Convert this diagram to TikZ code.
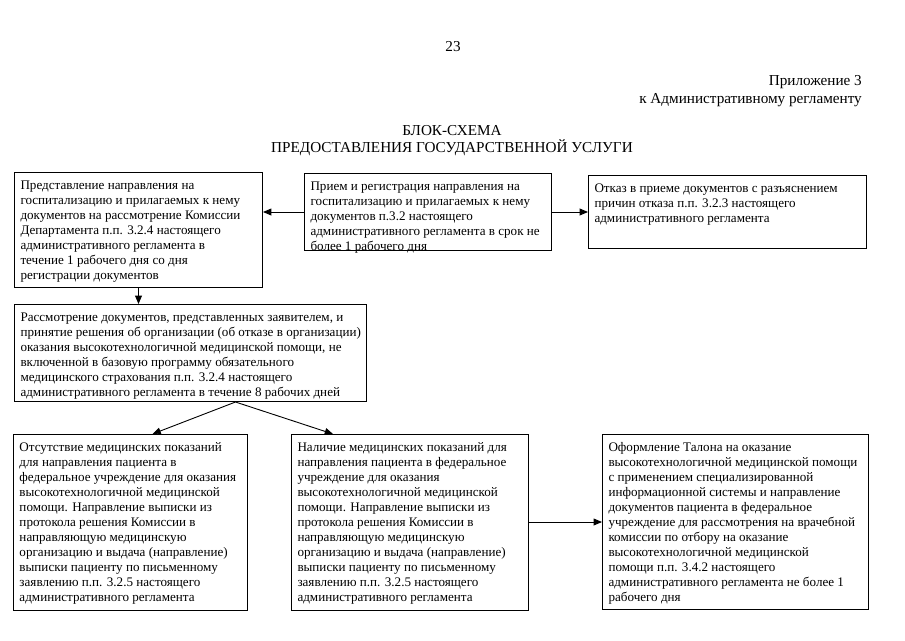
\documentclass[tikz,border=0pt]{standalone}
\usepackage{fontspec}
\setmainfont{Liberation Serif}
\usetikzlibrary{positioning,arrows}
\tikzset{
  blk/.style={draw=black, line width=1pt, inner xsep=6pt, inner ysep=6pt,
    anchor=north west, font=\fontsize{13.1}{15}\selectfont},
  hdr/.style={inner sep=0pt, font=\fontsize{15.2}{17}\selectfont},
  arr/.style={draw=black, line width=0.9pt, -triangle 45}
}
\newcommand{\blktext}[3]{\parbox[c][#2pt][t]{#1pt}{\begin{tabular}[t]{@{}l@{}}#3\end{tabular}}}

\begin{document}
\begin{tikzpicture}[x=1pt,y=-1pt]
  \useasboundingbox (0,0) rectangle (905,640);

  % header
  \node[hdr] (pnum) at (453,47) {23};
  \node[hdr, anchor=east] (appx) at (862,82) {Приложение 3};
  \node[hdr, anchor=east] (reg) at (862,100) {к Административному регламенту};
  \node[hdr] (title) at (452,131) {БЛОК-СХЕМА};
  \node[hdr] (subtitle) at (452,148) {ПРЕДОСТАВЛЕНИЯ ГОСУДАРСТВЕННОЙ УСЛУГИ};

  % top row
  \node[blk] (b1) at (14,172) {\blktext{236}{103}{%
    Представление направления на\\
    госпитализацию и прилагаемых к нему\\
    документов на рассмотрение Комиссии\\
    Департамента п.п. 3.2.4 настоящего\\
    административного регламента в\\
    течение 1 рабочего дня со дня\\
    регистрации документов}};
  \node[blk] (b2) at ([shift={(41,1)}]b1.north east) {\blktext{235}{65}{%
    Прием и регистрация направления на\\
    госпитализацию и прилагаемых к нему\\
    документов п.3.2 настоящего\\
    административного регламента в срок не\\
    более 1 рабочего дня}};
  \node[blk] (b3) at ([shift={(36,2)}]b2.north east) {\blktext{266}{61}{%
    Отказ в приеме документов с разъяснением\\
    причин отказа п.п. 3.2.3 настоящего\\
    административного регламента}};

  % review
  \node[blk] (b4) at ([shift={(0,16)}]b1.south west) {\blktext{340}{85}{%
    Рассмотрение документов, представленных заявителем, и\\
    принятие решения об организации (об отказе в организации)\\
    оказания высокотехнологичной медицинской помощи, не\\
    включенной в базовую программу обязательного\\
    медицинского страхования п.п. 3.2.4 настоящего\\
    административного регламента в течение 8 рабочих дней}};

  % bottom row
  \node[blk] (b5) at ([shift={(-1,32)}]b4.south west) {\blktext{222}{164}{%
    Отсутствие медицинских показаний\\
    для направления пациента в\\
    федеральное учреждение для оказания\\
    высокотехнологичной медицинской\\
    помощи. Направление выписки из\\
    протокола решения Комиссии в\\
    направляющую медицинскую\\
    организацию и выдача (направление)\\
    выписки пациенту по письменному\\
    заявлению п.п. 3.2.5 настоящего\\
    административного регламента}};
  \node[blk] (b6) at ([shift={(43,0)}]b5.north east) {\blktext{225}{164}{%
    Наличие медицинских показаний для\\
    направления пациента в федеральное\\
    учреждение для оказания\\
    высокотехнологичной медицинской\\
    помощи. Направление выписки из\\
    протокола решения Комиссии в\\
    направляющую медицинскую\\
    организацию и выдача (направление)\\
    выписки пациенту по письменному\\
    заявлению п.п. 3.2.5 настоящего\\
    административного регламента}};
  \node[blk] (b7) at ([shift={(73,0)}]b6.north east) {\blktext{254}{163}{%
    Оформление Талона на оказание\\
    высокотехнологичной медицинской помощи\\
    с применением специализированной\\
    информационной системы и направление\\
    документов пациента в федеральное\\
    учреждение для рассмотрения на врачебной\\
    комиссии по отбору на оказание\\
    высокотехнологичной медицинской\\
    помощи п.п. 3.4.2 настоящего\\
    административного регламента не более 1\\
    рабочего дня}};

  \coordinate[xshift=45pt] (fork) at (b4.south);

  \draw[arr] (b2.west) -- (b2.west -| b1.east);
  \draw[arr] (b2.east) -- (b2.east -| b3.west);
  \draw[arr] (b1.south) -- (b1.south |- b4.north);
  \draw[arr] (fork) -- ([xshift=22pt]b5.north);
  \draw[arr] (fork) -- ([xshift=42pt]b6.north west);
  \draw[arr] (b6.east |- b7.west) -- (b7.west);
\end{tikzpicture}
\end{document}
